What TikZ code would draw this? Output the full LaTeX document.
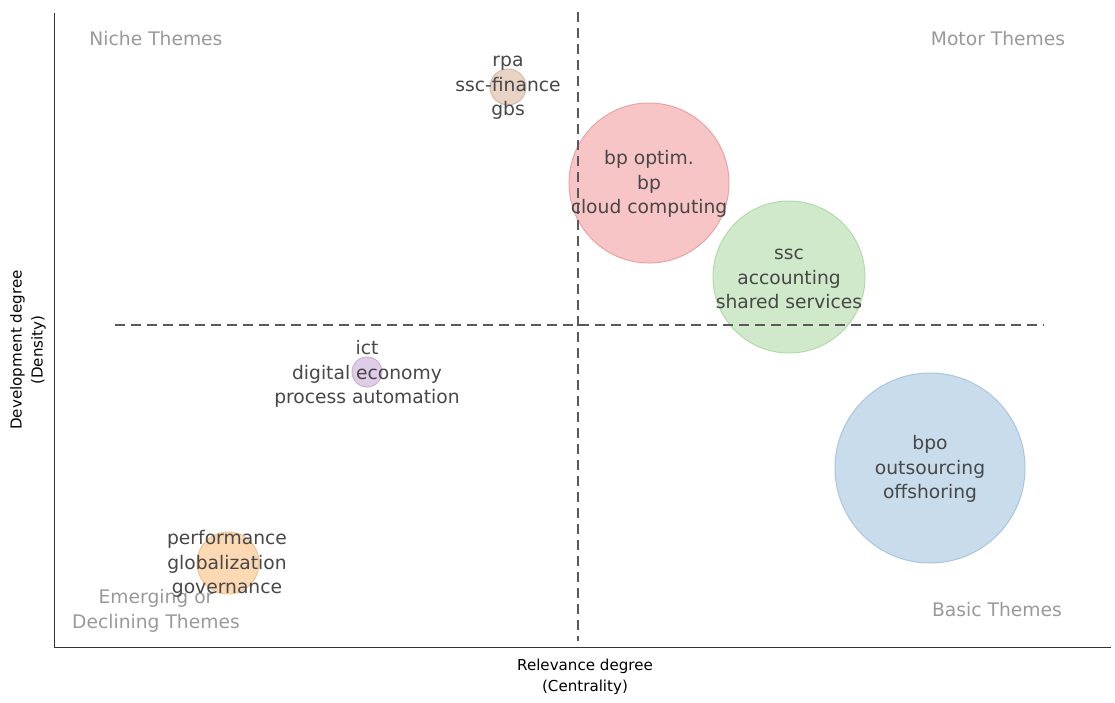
\documentclass[tikz,border=0pt]{standalone}
\usepackage{fontspec}
\setmainfont{DejaVu Sans}
\begin{document}
\begin{tikzpicture}[x=1pt,y=-1pt,
  bubtxt/.style={align=center,text=black!72,font=\fontsize{18.7}{24.6}\selectfont,inner sep=0pt},
  quad/.style={text=black!40,font=\fontsize{18.7}{24.6}\selectfont,inner sep=0pt,align=center},
  axlab/.style={text=black,font=\fontsize{15.1}{21}\selectfont,inner sep=0pt,align=center},
  guide/.style={draw=black!65,line width=1.5pt,dash pattern=on 10pt off 6pt},
  axisline/.style={draw=black!80,line width=1pt}]
\useasboundingbox (0,0) rectangle (1115,702);
\definecolor{redF}{HTML}{F7C5C5}\definecolor{redD}{HTML}{E9A3A3}
\definecolor{grnF}{HTML}{CFE9CA}\definecolor{grnD}{HTML}{B3DAAB}
\definecolor{bluF}{HTML}{C9DCEC}\definecolor{bluD}{HTML}{A9C5DD}
\definecolor{brnF}{HTML}{E8D3C5}\definecolor{brnD}{HTML}{D8BCA8}
\definecolor{purF}{HTML}{DFCCE6}\definecolor{purD}{HTML}{CBB2D6}
\definecolor{orgF}{HTML}{FCD9B3}\definecolor{orgD}{HTML}{F3C493}
% bubbles
\node[circle,minimum size=36pt,fill=brnF,draw=brnD,line width=1pt] (b1) at (508,87) {};
\node[circle,minimum size=160pt,fill=redF,draw=redD,line width=1pt] (b2) at (649,183) {};
\node[circle,minimum size=152pt,fill=grnF,draw=grnD,line width=1pt] (b3) at (789,277) {};
\node[circle,minimum size=190pt,fill=bluF,draw=bluD,line width=1pt] (b4) at (930,468) {};
\node[circle,minimum size=30pt,fill=purF,draw=purD,line width=1pt] (b5) at (367,372) {};
\node[circle,minimum size=62pt,fill=orgF,draw=orgD,line width=1pt] (b6) at (228,563) {};
% guides
\coordinate (vt) at (578,12); \coordinate (vb) at (578,641);
\coordinate (hl) at (115,325); \coordinate (hr) at (1044,325);
\draw[guide] (vt) -- (vb);
\draw[guide] (hl) -- (hr);
% axes
\coordinate (o) at (54,647); \coordinate (yt) at (54,13); \coordinate (xr) at (1111,647);
\draw[axisline] (yt) -- (o) -- (xr);
% quadrant labels
\node[quad] (q1) at (156,39) {Niche Themes};
\node[quad] (q2) at (998,39) {Motor Themes};
\node[quad] (q3) at (997,610) {Basic Themes};
\node[quad] (q4) at (156,611) {Emerging or\\Declining Themes};
% bubble labels
\node[bubtxt] (t1) at (508,88) {rpa\\ssc-finance\\gbs};
\node[bubtxt] (t2) at (649,184) {bp optim.\\bp\\cloud computing};
\node[bubtxt] (t3) at (789,279) {ssc\\accounting\\shared services};
\node[bubtxt] (t4) at (930,469) {bpo\\outsourcing\\offshoring};
\node[bubtxt] (t5) at (367,374) {ict\\digital economy\\process automation};
\node[bubtxt] (t6) at (227,564) {performance\\globalization\\governance};
% axis labels
\node[axlab] (xl) at (585,677) {Relevance degree\\(Centrality)};
\node[axlab,rotate=90] (yl) at (28,350) {Development degree\\(Density)};
\end{tikzpicture}
\end{document}
